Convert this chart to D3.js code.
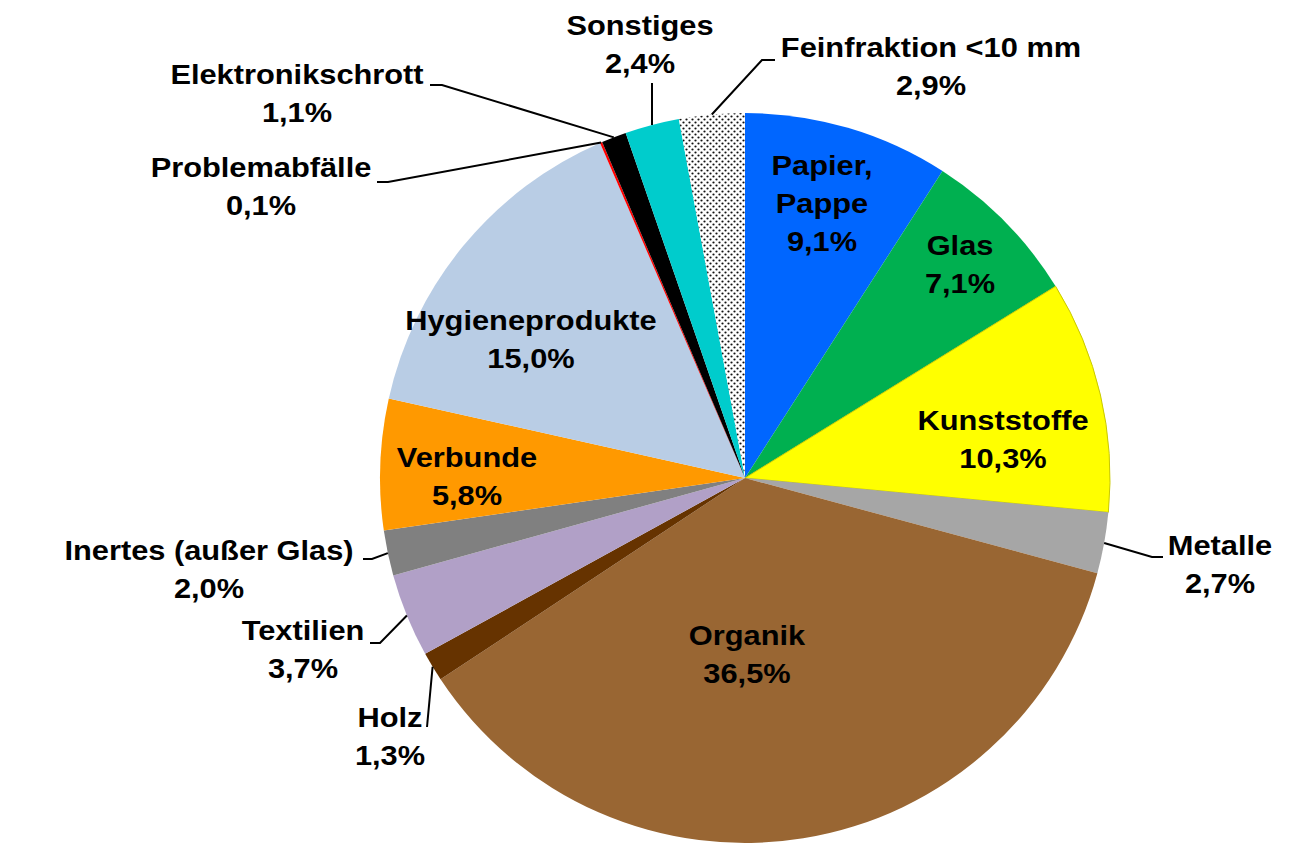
<!DOCTYPE html>
<html><head>
<meta charset="utf-8">
<script src="https://d3js.org/d3.v7.min.js"></script>
<style>
  body { margin: 0; background: #fff; }
  text { font-family: "Liberation Sans", Arial, sans-serif; font-weight: bold; font-size: 28px; fill: #000; }
</style>
</head>
<body>
<svg id="svg1" width="1310" height="865"></svg>
<script>

// data
const categories = ["Papier, Pappe", "Glas", "Kunststoffe", "Metalle", "Organik", "Holz", "Textilien",
                    "Inertes (außer Glas)", "Verbunde", "Hygieneprodukte", "Problemabfälle",
                    "Elektronikschrott", "Sonstiges", "Feinfraktion <10 mm"];
const shares = [9.1, 7.1, 10.3, 2.7, 36.5, 1.3, 3.7, 2.0, 5.8, 15.0, 0.1, 1.1, 2.4, 2.9];
const colors = ["#0066FF", "#00B050", "#FFFF00", "#A6A6A6", "#996633", "#663300", "#B1A0C7",
                "#808080", "#FF9900", "#B9CDE5", "#FF0000", "#000000", "#00CCCC", "url(#dots)"];

// label layout: text lines, centre x, first baseline, optional leader (elbow, end)
const labelLayout = {
  "Papier, Pappe":        {lines: ["Papier,", "Pappe"], x: 822, y: 175},
  "Glas":                 {x: 960, y: 255},
  "Kunststoffe":          {x: 1003, y: 430},
  "Metalle":              {x: 1220, y: 555, leader: [[1152, 557], [1163, 557]]},
  "Organik":              {x: 747, y: 645},
  "Holz":                 {x: 390, y: 727, leader: [[427, 727], [427, 727]]},
  "Textilien":            {x: 303, y: 640, leader: [[380, 643], [370, 643]]},
  "Inertes (außer Glas)": {x: 209, y: 560, leader: [[372, 559], [363, 559]]},
  "Verbunde":             {x: 467, y: 467},
  "Hygieneprodukte":      {x: 531, y: 330},
  "Problemabfälle":       {x: 261, y: 177, leader: [[388, 182], [377, 182]]},
  "Elektronikschrott":    {x: 297, y: 84, leader: [[442, 85], [430, 85]]},
  "Sonstiges":            {x: 640, y: 35, leader: [[652, 83], [652, 83]]},
  "Feinfraktion <10 mm":  {x: 931, y: 57, leader: [[762, 60], [775, 60]]}
};

const svg1 = d3.select("svg#svg1");
const cx = 745, cy = 478, radius = 365;
const lineGap = 38;

// dotted fill for Feinfraktion
const defs = svg1.append("defs");
const pat = defs.append("pattern").attr("id", "dots")
    .attr("patternUnits", "userSpaceOnUse").attr("width", 6).attr("height", 6);
pat.append("rect").attr("width", 6).attr("height", 6).attr("fill", "#fff");
pat.append("circle").attr("cx", 1.5).attr("cy", 1.5).attr("r", 1.1).attr("fill", "#111");
pat.append("circle").attr("cx", 4.5).attr("cy", 4.5).attr("r", 1.1).attr("fill", "#111");

const colorScale = d3.scaleOrdinal().domain(categories).range(colors);

const pieGen = d3.pie().sort(null).value(d => d.value);
const arcGen = d3.arc().innerRadius(0).outerRadius(radius);
const edgeArc = d3.arc().innerRadius(radius).outerRadius(radius);

const table = categories.map((c, i) => ({name: c, value: shares[i]}));
const arcs = pieGen(table);

const chartArea = svg1.append("g").attr("transform", `translate(${cx},${cy})`);

chartArea.selectAll("path.slice").data(arcs)
  .join("path")
  .attr("class", "slice")
  .attr("d", arcGen)
  .attr("fill", d => colorScale(d.data.name))
  .attr("stroke", d => d.data.name == "Kunststoffe" ? "#C9C900" : "none")
  .attr("stroke-width", 1);

// leader lines
let annotations = svg1.append("g");
arcs.forEach(d => {
  const lay = labelLayout[d.data.name];
  if (!lay.leader) return;
  const p = edgeArc.centroid(d);
  const pts = [[cx + p[0], cy + p[1]], lay.leader[0], lay.leader[1]];
  annotations.append("path")
    .attr("d", d3.line()(pts))
    .attr("fill", "none")
    .attr("stroke", "#000")
    .attr("stroke-width", 2);
});

// labels
arcs.forEach(d => {
  const lay = labelLayout[d.data.name];
  const lines = (lay.lines || [d.data.name]).concat([d.data.value.toFixed(1).replace(".", ",") + "%"]);
  const t = annotations.append("text")
    .attr("text-anchor", "middle")
    .attr("transform", `translate(${lay.x},${lay.y}) scale(1.1,1)`);
  lines.forEach((s, i) => {
    t.append("tspan").attr("x", 0).attr("y", i * lineGap).text(s);
  });
});

</script>
</body>
</html>
